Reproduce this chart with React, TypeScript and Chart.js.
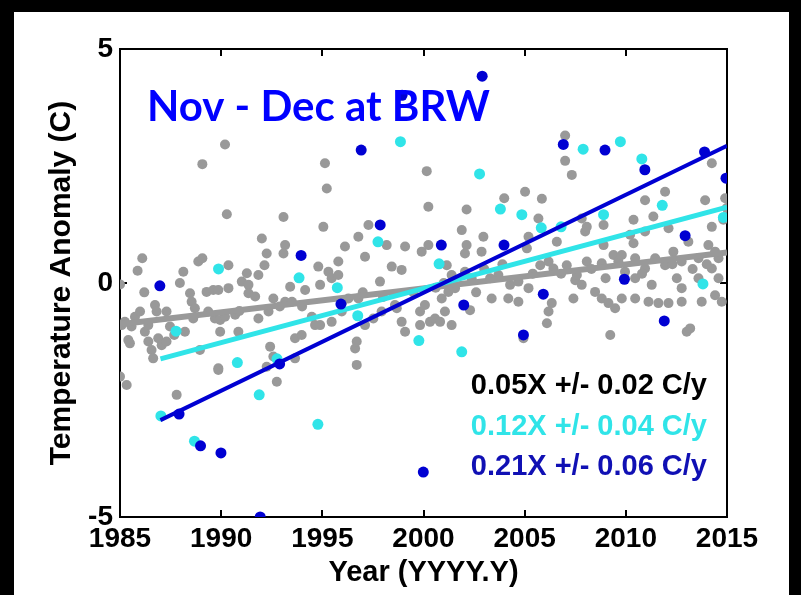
import React, { useEffect, useRef } from "react";
import { Chart, registerables } from "chart.js";

Chart.register(...registerables);

// ---------- data ----------
const chartTitle = "Nov - Dec at BRW";
const xTitle = "Year (YYYY.Y)";
const yTitle = "Temperature Anomaly (C)";
const xTicks = [1985, 1990, 1995, 2000, 2005, 2010, 2015];
const yTicks = [-5, 0, 5];
const legendLines = ["0.05X +/- 0.02 C/y", "0.12X +/- 0.04 C/y", "0.21X +/- 0.06 C/y"];

// gray: [year, anomaly]
const grayPoints: [number, number][] = [
  [1985.0, -0.03], [1985.0, -2.0], [1985.08, -0.9], [1985.24, -0.83], [1985.33, -2.18],
  [1985.41, -1.22], [1985.49, -1.29], [1985.57, -0.93], [1985.74, -0.72], [1985.87, 0.26],
  [1985.99, -0.61], [1986.1, 0.53], [1986.2, -0.2], [1986.23, -1.04], [1986.4, -0.9],
  [1986.4, -1.25], [1986.56, -1.43], [1986.64, -1.61], [1986.73, -0.47], [1986.81, -0.61],
  [1986.89, -1.18], [1987.06, -1.33], [1987.3, -0.61], [1987.3, -1.25], [1987.47, -0.93],
  [1987.68, -1.11], [1987.8, -2.39], [1987.96, 0.0], [1988.13, 0.24], [1988.21, -1.04],
  [1988.46, -0.22], [1988.54, -0.4], [1988.62, -0.76], [1988.7, -0.54], [1988.87, 0.46],
  [1988.95, -1.43], [1989.07, 2.54], [1989.07, 0.53], [1989.28, -0.19], [1989.36, -0.61],
  [1989.61, -0.15], [1989.69, -0.76], [1989.86, -1.86],
  [1989.86, -0.15], [1989.86, -1.82], [1989.95, -0.79], [1989.95, -1.04], [1990.19, 2.96],
  [1990.19, -0.72], [1990.28, 1.47], [1990.36, 0.38], [1990.36, -0.11], [1990.69, -0.68],
  [1990.85, -1.04], [1991.02, 0.03], [1991.27, 0.21], [1991.35, -0.04], [1991.35, -0.22],
  [1991.68, -0.29], [1991.84, 0.17], [1991.84, -0.76], [1992.01, 0.95], [1992.14, 0.38],
  [1992.25, 0.63], [1992.25, -1.79], [1992.34, -0.61], [1992.42, -1.36], [1992.58, -0.33],
  [1992.58, -1.57], [1992.75, -2.11], [1993.08, 1.41], [1993.08, 0.63], [1993.16, 0.81],
  [1993.16, -0.4], [1993.41, -0.08], [1993.65, -1.61], [1993.65, -1.18], [1993.98, -1.11],
  [1994.15, -0.15], [1994.48, -0.72], [1994.64, -0.9],
  [1994.8, 0.35], [1994.89, -0.04], [1994.89, -0.9], [1995.05, 1.2], [1995.13, 2.56],
  [1995.22, 2.02], [1995.3, 0.24], [1995.46, 0.1], [1995.46, -0.83], [1995.79, 0.46],
  [1995.79, 0.17], [1995.96, -0.61], [1996.12, 0.78], [1996.29, -0.33], [1996.62, -1.4],
  [1996.7, -1.25], [1996.7, -1.75], [1996.78, 0.99], [1996.78, -0.33], [1997.11, 0.56],
  [1997.11, -0.9], [1997.28, 1.24], [1997.52, -0.76], [1997.85, 0.03], [1997.93, -0.61],
  [1998.18, 0.81], [1998.43, 0.35], [1998.59, -0.47], [1998.68, -0.54], [1998.92, 0.28],
  [1998.92, -0.83], [1999.09, 0.78], [1999.09, -1.04],
  [1999.83, -0.61], [1999.83, -0.9], [1999.91, 0.67], [2000.07, -0.47], [2000.16, 2.39],
  [2000.24, 1.63], [2000.24, 0.81], [2000.32, -0.83], [2000.57, -0.76], [2000.82, -0.83],
  [2000.9, -0.33], [2001.06, -0.61], [2001.15, 0.38], [2001.23, -0.19], [2001.39, 0.17],
  [2001.39, -0.9], [2001.56, -0.11], [2001.89, 1.13], [2002.05, 0.63], [2002.05, 0.24],
  [2002.13, 1.57], [2002.13, 0.81], [2002.3, -0.58], [2002.38, 0.1], [2002.87, 0.67],
  [2002.96, 0.99], [2003.29, 0.1], [2003.37, -0.33], [2003.7, 0.17], [2003.99, 1.81],
  [2004.19, -0.33], [2004.28, -0.04],
  [2004.69, 0.03], [2004.69, -0.4], [2004.94, -1.18], [2005.02, 1.95], [2005.11, 0.74],
  [2005.19, 0.99], [2005.19, -0.11], [2005.68, 1.38], [2005.77, 0.38], [2005.85, 1.8],
  [2006.1, -0.86], [2006.18, 0.46], [2006.18, -0.61], [2006.34, -0.43], [2006.42, 0.31],
  [2006.59, 0.88], [2007.0, 3.15], [2007.0, 2.61], [2007.08, 0.38], [2007.33, 2.31],
  [2007.41, -0.33], [2007.5, 0.06], [2007.58, 0.17], [2007.82, 1.38], [2007.82, -0.04],
  [2007.99, 1.1], [2008.07, 1.2], [2008.07, 0.46], [2008.48, -0.19], [2008.81, 0.42],
  [2008.81, -0.33], [2008.9, 1.24], [2008.9, 0.81], [2009.14, -0.43], [2009.23, -1.11],
  [2009.39, 0.6], [2009.47, -0.54],
  [2009.63, 0.46], [2009.8, 0.6], [2009.8, -0.33], [2009.96, 0.24], [2010.21, 1.03],
  [2010.38, 1.35], [2010.38, 0.85], [2010.46, 0.53], [2010.46, 0.1], [2010.46, -0.33],
  [2010.95, 1.77], [2010.95, 1.1], [2010.95, 0.31], [2011.12, -0.4], [2011.28, -0.04],
  [2011.36, 1.42], [2011.45, 0.53], [2011.61, -0.43], [2011.94, 1.95], [2011.94, 0.38],
  [2012.11, 1.17], [2012.11, -0.43], [2012.35, 0.67], [2012.52, 0.1], [2012.76, 0.46],
  [2012.76, -0.11], [2012.76, -0.4], [2013.01, -1.04], [2013.09, 0.88], [2013.18, -0.97],
  [2013.59, 0.53], [2013.59, 0.1], [2013.75, -0.4], [2013.92, 1.77], [2014.08, 0.81],
  [2014.25, 2.56], [2014.25, 1.2], [2014.25, 0.31], [2014.41, 0.67], [2014.41, -0.26],
  [2014.58, 0.53], [2014.58, 0.1], [2014.74, -0.4], [2014.82, 1.35], [2014.91, 1.81],
  [2014.99, 1.6],
  [1990.9, -0.6], [1992.9, -0.5], [1993.5, -0.4], [1994.0, -0.5], [1996.0, -0.4],
  [1997.0, -0.2], [1998.0, -0.3], [1999.5, -0.2], [2000.6, -0.1], [2001.0, 0.0],
  [2002.6, -0.2], [2003.0, 0.3], [2003.9, 0.4], [2005.4, 0.2], [2006.8, 0.2],
  [2008.3, 0.3], [2009.0, 0.1], [2010.8, 0.2], [2012.3, 0.4], [2013.3, 0.3], [2014.0, 0.4],
];

const cyanYears = [
  1987.02, 1987.77, 1988.68, 1989.87, 1990.8, 1991.88, 1992.76, 1993.85, 1994.78, 1995.74,
  1996.75, 1997.75, 1998.86, 1999.77, 2000.77, 2001.89, 2002.77, 2003.8, 2004.86, 2005.82,
  2006.8, 2007.89, 2008.9, 2009.73, 2010.79, 2011.8, 2013.81, 2014.82,
];
const cyanValues = [
  -2.84, -1.03, -3.38, 0.3, -1.7, -2.39, -1.62, 0.11, -3.02, -0.1,
  -0.7, 0.88, 3.02, -1.23, 0.41, -1.47, 2.33, 1.58, 1.46, 1.18,
  1.2, 2.86, 1.46, 3.02, 2.65, 1.66, -0.02, 1.4,
];

const blueYears = [
  1986.97, 1987.92, 1988.98, 1989.99, 1991.93, 1992.89, 1993.95, 1995.92, 1996.92, 1997.86,
  1998.94, 1999.99, 2000.88, 2001.99, 2002.9, 2003.98, 2004.94, 2005.92, 2006.91, 2008.97,
  2009.93, 2010.94, 2011.9, 2012.93, 2013.89, 2014.95,
];
const blueValues = [
  -0.06, -2.8, -3.48, -3.63, -5.0, -1.73, 0.59, -0.45, 2.84, 1.24,
  4.01, -4.04, 0.81, -0.47, 4.42, 0.81, -1.11, -0.24, 2.96, 2.84,
  0.08, 2.42, -0.81, 1.01, 2.8, 2.24,
];

// trend lines: [startYear, endYear], [startValue, endValue]
const grayTrendYears = [1985, 2015];
const grayTrendValues = [-0.88, 0.65];
const cyanTrendYears = [1987, 2015];
const cyanTrendValues = [-1.62, 1.62];
const blueTrendYears = [1987, 2015];
const blueTrendValues = [-2.93, 2.93];

// ---------- styles ----------
const GRAY = "#999999";
const CYAN = "#30e4e8";
const BLUE = "#0000d2";
const TITLE_BLUE = "#0000ff";
const LEGEND_COLORS = ["#000000", "#30e4e8", "#1010b4"];
const SANS = "'Liberation Sans', Arial, Helvetica, sans-serif";

const toPts = (xs: number[], ys: number[]) => xs.map((x, i) => ({ x, y: ys[i] }));

const decorPlugin = {
  id: "decor",
  beforeDatasetsDraw(chart: any) {
    const { ctx, chartArea: a, scales } = chart;
    ctx.save();
    ctx.strokeStyle = "#000";
    ctx.lineWidth = 2;
    ctx.strokeRect(a.left, a.top, a.right - a.left, a.bottom - a.top);
    ctx.beginPath();
    xTicks.forEach((t) => {
      const px = Math.round(scales.x.getPixelForValue(t));
      if (px <= a.left + 2 || px >= a.right - 2) return;
      ctx.moveTo(px, a.bottom);
      ctx.lineTo(px, a.bottom - 7);
      ctx.moveTo(px, a.top);
      ctx.lineTo(px, a.top + 7);
    });
    yTicks.forEach((t) => {
      const py = Math.round(scales.y.getPixelForValue(t));
      if (py <= a.top + 2 || py >= a.bottom - 2) return;
      ctx.moveTo(a.left, py);
      ctx.lineTo(a.left + 7, py);
      ctx.moveTo(a.right, py);
      ctx.lineTo(a.right - 7, py);
    });
    ctx.stroke();
    ctx.restore();
  },
  afterDraw(chart: any) {
    const { ctx, chartArea: a } = chart;
    ctx.save();
    // axis titles
    ctx.fillStyle = "#000";
    ctx.textAlign = "center";
    ctx.textBaseline = "middle";
    ctx.font = `bold 29px ${SANS}`;
    ctx.fillText(xTitle, (a.left + a.right) / 2, 573);
    ctx.save();
    ctx.translate(62, (a.top + a.bottom) / 2);
    ctx.rotate(-Math.PI / 2);
    ctx.font = `bold 30px ${SANS}`;
    ctx.fillText(yTitle, 0, 0);
    ctx.restore();
    // chart title
    ctx.textAlign = "left";
    ctx.textBaseline = "alphabetic";
    ctx.fillStyle = TITLE_BLUE;
    ctx.font = `bold 42px Lato, 'Open Sans', sans-serif`;
    ctx.fillText(chartTitle, 147, 121);
    // legend text
    ctx.textAlign = "right";
    ctx.font = `bold 29px ${SANS}`;
    const baselines = [394, 435, 475];
    legendLines.forEach((t, i) => {
      ctx.fillStyle = LEGEND_COLORS[i];
      ctx.fillText(t, 707, baselines[i]);
    });
    ctx.restore();
  },
};

export default function App() {
  const ref = useRef<HTMLCanvasElement | null>(null);
  useEffect(() => {
    if (!ref.current) return;
    const chart = new Chart(ref.current, {
      type: "scatter",
      data: {
        datasets: [
          {
            label: "Dec trend",
            data: toPts(blueTrendYears, blueTrendValues),
            showLine: true,
            borderColor: BLUE,
            borderWidth: 4,
            pointRadius: 0,
            order: 0,
          },
          {
            label: "Dec",
            data: toPts(blueYears, blueValues),
            backgroundColor: BLUE,
            borderColor: BLUE,
            borderWidth: 0,
            pointRadius: 5.5,
            order: 1,
          },
          {
            label: "Nov trend",
            data: toPts(cyanTrendYears, cyanTrendValues),
            showLine: true,
            borderColor: CYAN,
            borderWidth: 5,
            pointRadius: 0,
            order: 2,
          },
          {
            label: "Nov",
            data: toPts(cyanYears, cyanValues),
            backgroundColor: CYAN,
            borderColor: CYAN,
            borderWidth: 0,
            pointRadius: 5.5,
            order: 3,
          },
          {
            label: "All trend",
            data: toPts(grayTrendYears, grayTrendValues),
            showLine: true,
            borderColor: GRAY,
            borderWidth: 6,
            pointRadius: 0,
            order: 4,
          },
          {
            label: "All",
            data: grayPoints.map(([x, y]) => ({ x, y })),
            backgroundColor: GRAY,
            borderColor: GRAY,
            borderWidth: 0,
            pointRadius: 5,
            order: 5,
          },
        ],
      },
      options: {
        responsive: false,
        animation: false,
        events: [],
        layout: { padding: { left: 0, top: 49, right: 74, bottom: 0 } },
        plugins: {
          legend: { display: false },
          tooltip: { enabled: false },
          title: { display: false },
        },
        scales: {
          x: {
            type: "linear",
            min: 1985,
            max: 2015,
            afterFit: (s: any) => {
              s.height = 78;
            },
            grid: { display: false, drawTicks: false },
            border: { display: false },
            afterBuildTicks: (s: any) => {
              s.ticks = xTicks.map((v) => ({ value: v }));
            },
            ticks: {
              autoSkip: false,
              maxRotation: 0,
              padding: 5,
              color: "#000",
              font: { family: SANS, size: 28, weight: "bold" },
              callback: (v: any) => String(v),
            },
          },
          y: {
            type: "linear",
            min: -5,
            max: 5,
            afterFit: (s: any) => {
              s.width = 120;
            },
            grid: { display: false, drawTicks: false },
            border: { display: false },
            afterBuildTicks: (s: any) => {
              s.ticks = yTicks.map((v) => ({ value: v }));
            },
            ticks: {
              autoSkip: false,
              padding: 7,
              color: "#000",
              font: { family: SANS, size: 28, weight: "bold" },
              callback: (v: any) => String(v),
            },
          },
        },
      },
      plugins: [decorPlugin],
    });
    return () => chart.destroy();
  }, []);

  return (
    <div
      style={{
        position: "fixed",
        left: 0,
        top: 0,
        width: 801,
        height: 595,
        background: "#000",
        overflow: "hidden",
      }}
    >
      <div
        style={{
          position: "absolute",
          left: 14,
          top: 12,
          width: 775,
          height: 583,
          background: "#fff",
        }}
      />
      <canvas
        ref={ref}
        width={801}
        height={595}
        style={{ position: "absolute", left: 0, top: 0, width: 801, height: 595 }}
      />
    </div>
  );
}
